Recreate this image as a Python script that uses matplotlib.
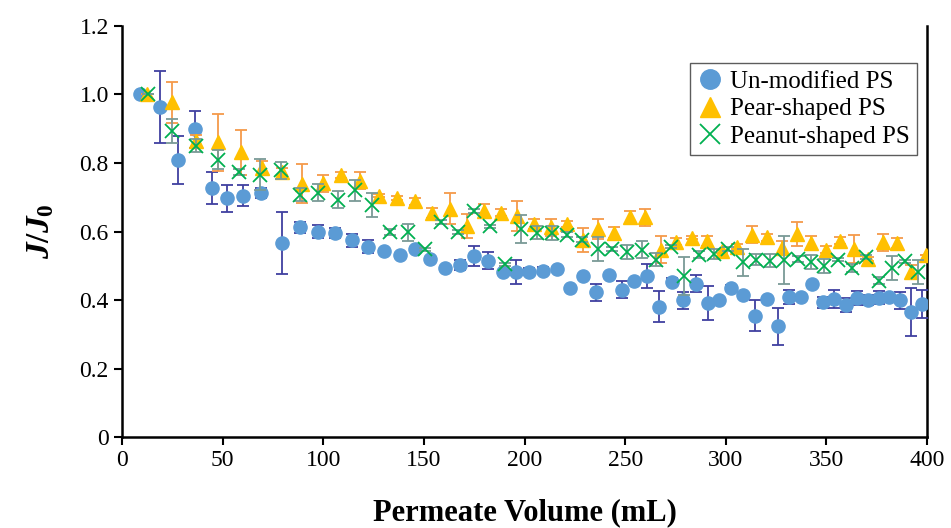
import numpy as np
import matplotlib
matplotlib.use("Agg")
import matplotlib.pyplot as plt
from matplotlib.lines import Line2D

plt.rcParams['font.family'] = ['Liberation Serif', 'DejaVu Serif']
plt.rcParams['mathtext.fontset'] = 'custom'
plt.rcParams['mathtext.rm'] = 'Liberation Serif:bold'
plt.rcParams['mathtext.it'] = 'Liberation Serif:italic:bold'
plt.rcParams['mathtext.bf'] = 'Liberation Serif:bold'

# Un-modified PS
vol_un = [9, 19, 28, 36.4, 44.7, 52.3, 60.1, 69, 79.3, 88.4,
          97.2, 105.8, 114.1, 122.4, 130.3, 138.1, 145.6, 153, 160.5, 168,
          175, 182, 189.2, 195.8, 202.3, 209.3, 216, 222.6, 229.2, 235.5,
          242, 248.3, 254.6, 260.7, 266.8, 273.1, 278.9, 285.2, 291, 296.8,
          302.6, 308.7, 314.5, 320.3, 325.8, 331.6, 337.4, 342.7, 348.5, 354,
          359.6, 365.1, 370.5, 376.1, 381.3, 386.6, 392, 397.4]
flux_un = [1.0, 0.964, 0.808, 0.898, 0.727, 0.697, 0.705, 0.713, 0.566, 0.612,
           0.600, 0.596, 0.574, 0.556, 0.542, 0.532, 0.549, 0.520, 0.493, 0.503,
           0.529, 0.515, 0.483, 0.481, 0.482, 0.486, 0.490, 0.435, 0.471, 0.422,
           0.474, 0.430, 0.456, 0.469, 0.381, 0.454, 0.399, 0.447, 0.391, 0.399,
           0.435, 0.415, 0.354, 0.403, 0.323, 0.408, 0.410, 0.447, 0.393, 0.403,
           0.386, 0.405, 0.401, 0.407, 0.410, 0.399, 0.366, 0.388]
err_un = [0, 0.105, 0.07, 0.053, 0.048, 0.04, 0.03, 0.015, 0.09, 0.015,
          0.02, 0.015, 0.02, 0.02, 0, 0, 0, 0, 0, 0.015,
          0.03, 0.025, 0, 0.035, 0.01, 0.01, 0, 0, 0, 0.025,
          0, 0.025, 0, 0.035, 0.045, 0.01, 0.025, 0.025, 0.05, 0,
          0.01, 0, 0.045, 0, 0.055, 0.02, 0, 0, 0.015, 0.025,
          0.02, 0.02, 0.015, 0.02, 0, 0.025, 0.07, 0.04]

# Pear-shaped PS
vol_pear = [12.6, 24.7, 36.8, 47.9, 59, 69.5, 79.5, 89.5, 99.7, 108.8,
            118.3, 127.7, 136.5, 145.6, 154.2, 163, 171.6, 179.9, 188.5, 196.4,
            204.9, 213, 221, 228.9, 236.7, 244.6, 252.4, 260, 267.8, 275.5,
            283, 290.5, 298, 305.7, 312.9, 320.3, 327.8, 335.3, 342.4, 349.7,
            356.8, 363.9, 370.5, 378.3, 385.1, 392, 399.4]
flux_pear = [1.0, 0.977, 0.863, 0.860, 0.831, 0.786, 0.775, 0.740, 0.741, 0.765,
             0.748, 0.705, 0.698, 0.688, 0.654, 0.666, 0.615, 0.659, 0.655, 0.646,
             0.622, 0.612, 0.622, 0.576, 0.607, 0.597, 0.641, 0.641, 0.547, 0.570,
             0.582, 0.573, 0.542, 0.556, 0.591, 0.583, 0.552, 0.594, 0.566, 0.547,
             0.573, 0.549, 0.520, 0.568, 0.566, 0.483, 0.532]
err_pear = [0, 0.06, 0.02, 0.083, 0.065, 0.02, 0.01, 0.058, 0.025, 0.01,
            0.025, 0.005, 0.005, 0.01, 0.015, 0.045, 0.035, 0.02, 0.01, 0.044,
            0.015, 0.025, 0.01, 0.035, 0.03, 0.015, 0.02, 0.025, 0.04, 0.01,
            0.005, 0.015, 0.005, 0.008, 0.025, 0.01, 0.02, 0.035, 0.02, 0.01,
            0.01, 0.04, 0.005, 0.025, 0.015, 0.02, 0]

# Peanut-shaped PS
vol_pea = [13, 24.7, 36.8, 47.6, 58.3, 68.6, 79, 88.4, 97.5, 107.2,
           115.8, 124.4, 133.4, 142.2, 150.4, 158.5, 166.7, 174.9, 182.7, 190.5,
           198.3, 206, 213.5, 221, 228.7, 236.3, 243.6, 250.9, 258.2, 265.2,
           272.7, 279.4, 286.9, 294.3, 301, 308.4, 314.9, 322, 329, 335.7,
           342.4, 349, 355.6, 362.6, 369.5, 376.1, 382.4, 389, 395.7]
flux_pea = [1.0, 0.893, 0.851, 0.810, 0.774, 0.766, 0.779, 0.708, 0.713, 0.693,
            0.720, 0.678, 0.599, 0.598, 0.548, 0.628, 0.599, 0.660, 0.615, 0.504,
            0.607, 0.597, 0.596, 0.591, 0.576, 0.549, 0.549, 0.540, 0.547, 0.518,
            0.556, 0.470, 0.532, 0.535, 0.549, 0.510, 0.518, 0.515, 0.518, 0.520,
            0.510, 0.500, 0.518, 0.493, 0.525, 0.456, 0.493, 0.513, 0.483]
err_pea = [0, 0.035, 0.02, 0.027, 0.008, 0.045, 0.025, 0.02, 0.025, 0.025,
           0.03, 0.035, 0.008, 0.025, 0.005, 0.005, 0.005, 0.005, 0.005, 0.005,
           0.042, 0.02, 0.02, 0.008, 0.008, 0.035, 0.005, 0.02, 0.025, 0.02,
           0.005, 0.056, 0.01, 0.015, 0.005, 0.04, 0.015, 0.02, 0.07, 0.008,
           0.02, 0.02, 0.005, 0.012, 0.005, 0.01, 0.035, 0.005, 0.035]

c_un, c_pear, c_pea = '#5B9BD5', '#FFC000', '#00B050'

fig = plt.figure(figsize=(9.51, 5.28), dpi=100)
ax = fig.add_axes([0.1283, 0.1723, 0.8465, 0.7785])

ax.errorbar(vol_un, flux_un, yerr=err_un, fmt='o', color=c_un, ms=9.5,
            ecolor='#4040A0', elinewidth=1.3, capsize=4.5, capthick=1.3, zorder=3)
ax.errorbar(vol_pear, flux_pear, yerr=err_pear, fmt='^', color=c_pear, ms=9.5,
            ecolor='#F59A4A', elinewidth=1.3, capsize=4.5, capthick=1.3, zorder=4)
ax.errorbar(vol_pea, flux_pea, yerr=err_pea, fmt='x', color=c_pea, ms=10,
            mew=1.3, ecolor='#7A9A96', elinewidth=1.3, capsize=4.5, capthick=1.3,
            zorder=5)

ax.set_xlim(0, 400)
ax.set_ylim(0, 1.2)
ax.set_xticks(np.arange(0, 401, 50))
ax.set_yticks(np.arange(0, 1.21, 0.2))
ax.set_yticklabels(['0', '0.2', '0.4', '0.6', '0.8', '1.0', '1.2'])
ax.tick_params(direction='out', length=6, width=1.5, labelsize=17)

ax.spines['top'].set_visible(False)
for s in ['left', 'bottom', 'right']:
    ax.spines[s].set_linewidth(1.8)

ax.set_xlabel('Permeate Volume (mL)', fontsize=22, fontweight='bold')
ax.xaxis.set_label_coords(0.5, -0.148)
ax.set_ylabel(r'$J/J_0$', fontsize=24)
ax.yaxis.set_label_coords(-0.082, 0.5)

handles = [
    Line2D([], [], ls='', marker='o', color=c_un, ms=14),
    Line2D([], [], ls='', marker='^', color=c_pear, ms=14),
    Line2D([], [], ls='', marker='x', color=c_pea, ms=14, mew=1.3),
]
labels = ['Un-modified PS', 'Pear-shaped PS', 'Peanut-shaped PS']
leg = ax.legend(handles, labels, loc='upper right', fontsize=18, frameon=True,
                fancybox=False, edgecolor='#333333', handletextpad=0.3,
                borderpad=0.3, labelspacing=0.2, borderaxespad=0,
                bbox_to_anchor=(0.988, 0.91), handlelength=1.0)
leg.get_frame().set_linewidth(1.0)

fig.savefig('out.png', dpi=100)
